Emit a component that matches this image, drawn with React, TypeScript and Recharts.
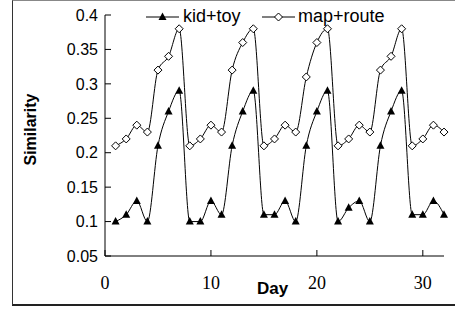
import React from 'react';
import { LineChart, Line, XAxis, YAxis } from 'recharts';

const days = [1, 2, 3, 4, 5, 6, 7, 8, 9, 10, 11, 12, 13, 14, 15, 16, 17, 18, 19, 20, 21, 22, 23, 24, 25, 26, 27, 28, 29, 30, 31, 32];
const kidToy = [0.1, 0.11, 0.13, 0.1, 0.21, 0.26, 0.29, 0.1, 0.1, 0.13, 0.11, 0.21, 0.26, 0.29, 0.11, 0.11, 0.13, 0.1, 0.21, 0.26, 0.29, 0.1, 0.12, 0.13, 0.1, 0.21, 0.26, 0.29, 0.11, 0.11, 0.13, 0.11];
const mapRoute = [0.21, 0.22, 0.24, 0.23, 0.32, 0.34, 0.38, 0.21, 0.22, 0.24, 0.23, 0.32, 0.36, 0.38, 0.21, 0.22, 0.24, 0.23, 0.31, 0.36, 0.38, 0.21, 0.22, 0.24, 0.23, 0.32, 0.34, 0.38, 0.21, 0.22, 0.24, 0.23];
const xTicks = [0, 10, 20, 30];
const yTicks = [0.05, 0.1, 0.15, 0.2, 0.25, 0.3, 0.35, 0.4];

const data = days.map((day, i) => ({ day, kidToy: kidToy[i], mapRoute: mapRoute[i] }));

const SANS = '"Liberation Sans", Arial, sans-serif';
const SERIF = '"Liberation Serif", "Times New Roman", serif';

const Triangle = (props: any) => {
  const { cx, cy, index } = props;
  if (cx == null || cy == null) return <g key={`t-${index}`} />;
  return <polygon key={`t-${index}`} points={`${cx},${cy - 4.5} ${cx + 4},${cy + 3} ${cx - 4},${cy + 3}`} fill="#000" />;
};

const Diamond = (props: any) => {
  const { cx, cy, index } = props;
  if (cx == null || cy == null) return <g key={`d-${index}`} />;
  return <polygon key={`d-${index}`} points={`${cx},${cy - 4} ${cx + 4},${cy} ${cx},${cy + 4} ${cx - 4},${cy}`} fill="#fff" stroke="#000" strokeWidth={1} />;
};

const legendText: React.CSSProperties = { position: 'absolute', top: 6, fontFamily: SANS, fontSize: 18, lineHeight: '20px', color: '#000' };

export default function App() {
  return (
    <div style={{ position: 'absolute', left: 0, top: 0, width: 455, height: 314, background: '#fff', overflow: 'hidden' }}>
      <div style={{ position: 'absolute', left: 12, top: 0, width: 450, height: 303, borderTop: '1px solid #888', borderLeft: '1px solid #333', borderBottom: '2px solid #222' }} />
      <LineChart width={455} height={314} data={data} margin={{ top: 15, right: 11, left: 0, bottom: 18 }}>
        <XAxis
          dataKey="day"
          type="number"
          domain={[0, 32]}
          ticks={xTicks}
          height={40}
          tickSize={-6}
          tickMargin={26}
          axisLine={{ stroke: '#000' }}
          tickLine={{ stroke: '#000' }}
          tick={{ fill: '#000', fontFamily: SERIF, fontSize: 18 }}
          label={{
            content: (p: any) => {
              const vb = p.viewBox || { x: 105, y: 256, width: 339, height: 40 };
              return (
                <text x={vb.x + vb.width / 2 - 2} y={vb.y + 38} textAnchor="middle" fontFamily={SANS} fontSize={17} fontWeight="bold" fill="#000">
                  Day
                </text>
              );
            },
          }}
        />
        <YAxis
          type="number"
          domain={[0.05, 0.4]}
          ticks={yTicks}
          width={105}
          tickSize={-6}
          tickMargin={13}
          allowDataOverflow
          tickFormatter={(v: number) => String(v)}
          axisLine={{ stroke: '#000' }}
          tickLine={{ stroke: '#000' }}
          tick={{ fill: '#000', fontFamily: SANS, fontSize: 16 }}
          label={{
            content: (p: any) => {
              const vb = p.viewBox || { x: 0, y: 15, width: 105, height: 241 };
              const cx = vb.x + 36;
              const cy = vb.y + vb.height / 2 - 6;
              return (
                <text x={cx} y={cy} transform={`rotate(-90 ${cx} ${cy})`} textAnchor="middle" fontFamily={SANS} fontSize={16} fontWeight="bold" fill="#000">
                  Similarity
                </text>
              );
            },
          }}
        />
        <Line dataKey="kidToy" type="monotone" stroke="#000" strokeWidth={1} dot={Triangle} activeDot={false} isAnimationActive={false} />
        <Line dataKey="mapRoute" type="monotone" stroke="#000" strokeWidth={1} dot={Diamond} activeDot={false} isAnimationActive={false} />
      </LineChart>
      <svg style={{ position: 'absolute', left: 146, top: 12 }} width={33} height={10}>
        <line x1={0} y1={5} x2={33} y2={5} stroke="#000" strokeWidth={1} />
        <polygon points="16.5,0.5 20.5,8 12.5,8" fill="#000" />
      </svg>
      <div style={{ ...legendText, left: 183 }}>kid+toy</div>
      <svg style={{ position: 'absolute', left: 262, top: 12 }} width={33} height={10}>
        <line x1={0} y1={5} x2={33} y2={5} stroke="#000" strokeWidth={1} />
        <polygon points="16.5,1 20.5,5 16.5,9 12.5,5" fill="#fff" stroke="#000" strokeWidth={1} />
      </svg>
      <div style={{ ...legendText, left: 298 }}>map+route</div>
    </div>
  );
}
